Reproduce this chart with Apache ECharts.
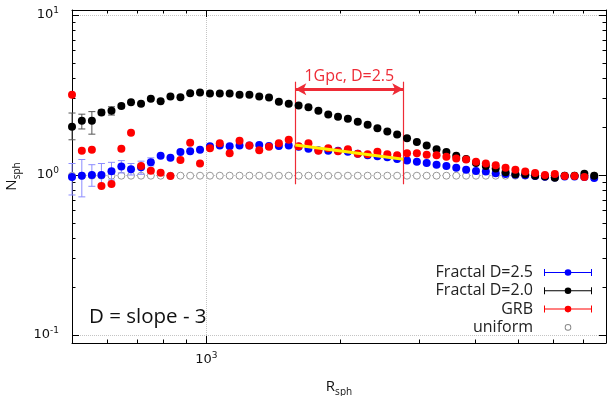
<!DOCTYPE html>
<html>
<head>
<meta charset="utf-8">
<script src="https://cdn.jsdelivr.net/npm/echarts@6/dist/echarts.min.js"></script>
<style>
  html, body { margin: 0; padding: 0; background: #fff; }
  #chart { width: 610px; height: 396px; }
</style>
</head>
<body>
<div id="chart"></div>
<script>
// sphere radius of each bin (log spaced)
const radius = [500, 526, 554, 582, 613, 645, 678, 714, 751, 790, 831, 875, 920, 968, 1019, 1072, 1128, 1187, 1249, 1314,
  1382, 1454, 1530, 1610, 1694, 1783, 1876, 1973, 2076, 2185, 2299, 2418, 2545, 2677, 2817, 2964, 3118, 3281, 3452, 3632,
  3822, 4021, 4231, 4452, 4684, 4928, 5185, 5456, 5740, 6040, 6355, 6687, 7035, 7402];

const fractal25 = [0.97, 0.99, 1.00, 1.00, 1.055, 1.13, 1.085, 1.12, 1.20, 1.32, 1.28, 1.39, 1.41, 1.44, 1.51, 1.53, 1.51, 1.53, 1.53, 1.54,
  1.52, 1.52, 1.53, 1.50, 1.46, 1.43, 1.42, 1.42, 1.40, 1.36, 1.33, 1.31, 1.29, 1.26, 1.23, 1.21, 1.19, 1.16, 1.14, 1.11,
  1.08, 1.06, 1.05, 1.025, 1.014, 1.004, 0.997, 0.986, 0.974, 0.965, 0.979, 0.979, 0.972, 0.958];

const fractal20 = [2.00, 2.18, 2.18, 2.46, 2.52, 2.70, 2.85, 2.79, 3.00, 2.89, 3.10, 3.06, 3.24, 3.28, 3.23, 3.23, 3.23, 3.17, 3.17, 3.10,
  3.05, 2.87, 2.79, 2.72, 2.65, 2.52, 2.39, 2.31, 2.25, 2.15, 2.06, 1.96, 1.87, 1.79, 1.70, 1.61, 1.53, 1.45, 1.39, 1.32,
  1.26, 1.19, 1.14, 1.10, 1.04, 1.01, 1.01, 0.99, 0.98, 0.96, 0.99, 0.99, 1.02, 0.99];

const grb = [3.18, 1.42, 1.44, 0.853, 0.878, 1.46, 1.84, 1.14, 1.064, 1.034, 0.986, 1.24, 1.59, 1.18, 1.47, 1.58, 1.37, 1.64, 1.53, 1.43,
  1.50, 1.58, 1.66, 1.51, 1.58, 1.42, 1.47, 1.41, 1.45, 1.36, 1.35, 1.40, 1.35, 1.33, 1.37, 1.37, 1.34, 1.33, 1.30, 1.27,
  1.25, 1.21, 1.18, 1.15, 1.11, 1.08, 1.05, 1.03, 1.00, 1.014, 0.986, 0.986, 0.972, null];

const uniform = [0.99, 0.99, 0.99, 0.99, 0.99, 0.99, 0.99, 0.99, 0.99, 0.99, 0.99, 0.99, 0.99, 0.99, 0.99, 0.99, 0.99, 0.99, 0.99, 0.99,
  0.99, 0.99, 0.99, 0.99, 0.99, 0.99, 0.99, 0.99, 0.99, 0.99, 0.99, 0.99, 0.99, 0.99, 0.99, 0.99, 0.99, 0.99, 0.99, 0.99,
  0.99, 0.99, 0.99, 0.99, 0.99, 0.99, 0.99, 0.99, 0.99, 0.99, 0.99, 0.99, 0.99, 0.99];

// error bars [low, high], only the first bins have visible ones
const fractal25Err = [[0.75, 1.18], [0.73, 1.25], [0.85, 1.16], [0.85, 1.18], [0.93, 1.20], [1.03, 1.23], [1.00, 1.18], [1.01, 1.22], [1.14, 1.28]];
const fractal20Err = [[1.66, 2.44], [1.94, 2.40], [1.80, 2.49], [2.38, 2.55], [2.37, 2.67], [2.63, 2.77]];

// 1 Gpc range marker and the D=2.5 fit segment
const gpcRange = [1583, 2763];
const gpcLineY = [0.875, 3.83];
const gpcArrowY = 3.43;
const fitLine = [[1583, 1.54], [2763, 1.254]];

const xMajorTicks = [1000];
const xMinorTicks = [500, 600, 700, 800, 900, 2000, 3000, 4000, 5000, 6000, 7000];
const yMajorTicks = [0.1, 1, 10];
const yMinorTicks = [0.2, 0.3, 0.4, 0.5, 0.6, 0.7, 0.8, 0.9, 2, 3, 4, 5, 6, 7, 8, 9];

const X_MIN = 500, X_MAX = 7866;
const Y_MIN = 0.0891, Y_MAX = 10.75;

const pts = arr => radius.map((r, i) => [r, arr[i]]).filter(p => p[1] != null);
const errPts = arr => arr.map((e, i) => [radius[i], e[0], e[1]]);

const powLabel = v => `{b|10}{s|${Math.round(Math.log10(v))}}`;
const powRich = {
  b: { fontSize: 13, fontFamily: "DejaVu Sans", color: "#111", lineHeight: 18, verticalAlign: "middle" },
  s: { fontSize: 9, fontFamily: "DejaVu Sans", color: "#111", lineHeight: 9, verticalAlign: "top" }
};
const nameRich = {
  a: { fontSize: 15, fontFamily: "Open Sans", color: "#111", lineHeight: 20, verticalAlign: "middle" },
  s: { fontSize: 10, fontFamily: "Open Sans", color: "#111", lineHeight: 10, verticalAlign: "bottom" }
};

function makeAxis(kind, position, major) {
  const isX = kind === "x";
  return {
    type: "log",
    logBase: 10,
    position,
    min: isX ? X_MIN : Y_MIN,
    max: isX ? X_MAX : Y_MAX,
    axisLine: { show: major, onZero: false, lineStyle: { color: "#000", width: 1 } },
    axisTick: {
      show: true, inside: true, length: major ? 7 : 3.5,
      customValues: isX ? (major ? xMajorTicks : xMinorTicks) : (major ? yMajorTicks : yMinorTicks),
      lineStyle: { color: "#000", width: 1 }
    },
    minorTick: { show: false },
    axisLabel: { show: false },
    splitLine: { show: false }
  };
}

const xMain = makeAxis("x", "bottom", true);
xMain.axisLabel = { show: true, customValues: xMajorTicks, formatter: powLabel, rich: powRich, margin: 8 };
xMain.splitLine = { show: true, lineStyle: { type: "dotted", color: "#c4c4c4", width: 1 } };
xMain.name = "{a|R}{s|sph}";
xMain.nameLocation = "middle";
xMain.nameGap = 34;
xMain.nameTextStyle = { rich: nameRich };

const yMain = makeAxis("y", "left", true);
yMain.axisLabel = { show: true, customValues: yMajorTicks, formatter: powLabel, rich: powRich, margin: 13 };
yMain.splitLine = { show: true, lineStyle: { type: "dotted", color: "#c4c4c4", width: 1 } };
yMain.name = "{a|N}{s|sph}";
yMain.nameLocation = "middle";
yMain.nameGap = 50;
yMain.nameTextStyle = { rich: nameRich };

function errorBars(color) {
  return function (params, api) {
    const x = api.value(0);
    const top = api.coord([x, api.value(2)]);
    const bot = api.coord([x, api.value(1)]);
    const w = 3.5;
    const style = { stroke: color, lineWidth: 1 };
    return {
      type: "group",
      children: [
        { type: "line", shape: { x1: top[0], y1: top[1], x2: bot[0], y2: bot[1] }, style },
        { type: "line", shape: { x1: top[0] - w, y1: top[1], x2: top[0] + w, y2: top[1] }, style },
        { type: "line", shape: { x1: bot[0] - w, y1: bot[1], x2: bot[0] + w, y2: bot[1] }, style }
      ]
    };
  };
}

const barIcon = "path://M0,3L48,3L48,4L0,4Z M0,0L1,0L1,7L0,7Z M47,0L48,0L48,7L47,7Z M20.7,3.5A3.3,3.3,0,1,1,27.3,3.5A3.3,3.3,0,1,1,20.7,3.5Z";
const ringIcon = "path://M0,0L0.01,0 M48,7L47.99,7 M27.3,3.5A3.3,3.3,0,1,0,20.7,3.5A3.3,3.3,0,1,0,27.3,3.5Z M26.4,3.5A2.4,2.4,0,1,1,21.6,3.5A2.4,2.4,0,1,1,26.4,3.5Z";

const chart = echarts.init(document.getElementById("chart"), null, { renderer: "canvas" });

chart.setOption({
  animation: false,
  backgroundColor: "#fff",
  grid: { left: 72, right: 4, top: 10, bottom: 53, containLabel: false, outerBoundsMode: "none" },
  title: {
    text: "D = slope - 3",
    left: 89, top: 307, padding: 0,
    textStyle: { fontFamily: "Open Sans", fontSize: 20.5, fontWeight: "normal", color: "#111" }
  },
  legend: {
    orient: "vertical",
    right: 18, top: 264, padding: 0,
    align: "right",
    itemWidth: 48, itemHeight: 7, itemGap: 1.3,
    selectedMode: false,
    textStyle: { fontFamily: "Open Sans", fontSize: 16, color: "#222", width: 112, align: "right", lineHeight: 17, padding: [0, 6, 0, 0] },
    data: [
      { name: "Fractal D=2.5", icon: barIcon, itemStyle: { color: "#0000ff", borderWidth: 0 } },
      { name: "Fractal D=2.0", icon: barIcon, itemStyle: { color: "#000000", borderWidth: 0 } },
      { name: "GRB", icon: barIcon, itemStyle: { color: "#ff0000", borderWidth: 0 } },
      { name: "uniform", icon: ringIcon, itemStyle: { color: "#888888", borderWidth: 0 } }
    ]
  },
  xAxis: [xMain, makeAxis("x", "bottom", false), makeAxis("x", "top", true), makeAxis("x", "top", false)],
  yAxis: [yMain, makeAxis("y", "left", false), makeAxis("y", "right", true), makeAxis("y", "right", false)],
  series: [
    {
      name: "uniform", type: "scatter", data: pts(uniform), z: 2,
      symbol: "circle", symbolSize: 7,
      itemStyle: { color: "#ffffff", borderColor: "#999999", borderWidth: 1, opacity: 1 }
    },
    {
      type: "custom", renderItem: errorBars("#8c8cff"), data: errPts(fractal25Err), z: 3,
      encode: { x: 0, y: [1, 2] }, silent: true
    },
    {
      name: "Fractal D=2.5", type: "scatter", data: pts(fractal25), z: 4,
      symbolSize: 8, itemStyle: { color: "#0000ff", opacity: 1 }
    },
    {
      type: "custom", renderItem: errorBars("#555555"), data: errPts(fractal20Err), z: 5,
      encode: { x: 0, y: [1, 2] }, silent: true
    },
    {
      name: "Fractal D=2.0", type: "scatter", data: pts(fractal20), z: 6,
      symbolSize: 8, itemStyle: { color: "#000000", opacity: 1 }
    },
    {
      name: "GRB", type: "scatter", data: pts(grb), z: 7,
      symbolSize: 8, itemStyle: { color: "#ff0000", opacity: 1 }
    },
    {
      type: "line", data: fitLine, z: 8, symbol: "none", silent: true,
      lineStyle: { color: "#ffee00", width: 3 },
      markLine: {
        silent: true,
        symbol: ["none", "none"],
        lineStyle: { color: "#ee2b36", width: 1.2, type: "solid" },
        label: { show: false },
        data: [
          [{ coord: [gpcRange[0], gpcLineY[1]] }, { coord: [gpcRange[0], gpcLineY[0]] }],
          [{ coord: [gpcRange[1], gpcLineY[1]] }, { coord: [gpcRange[1], gpcLineY[0]] }],
          [
            {
              coord: [gpcRange[0], gpcArrowY], symbol: "arrow", symbolSize: [9, 11],
              lineStyle: { width: 3 },
              label: {
                show: true, position: "middle", formatter: "1Gpc, D=2.5", distance: 5,
                color: "#ee2b36", fontSize: 16, fontFamily: "Open Sans"
              }
            },
            { coord: [gpcRange[1], gpcArrowY], symbol: "arrow", symbolSize: [9, 11] }
          ]
        ]
      }
    }
  ]
});
</script>
</body>
</html>
